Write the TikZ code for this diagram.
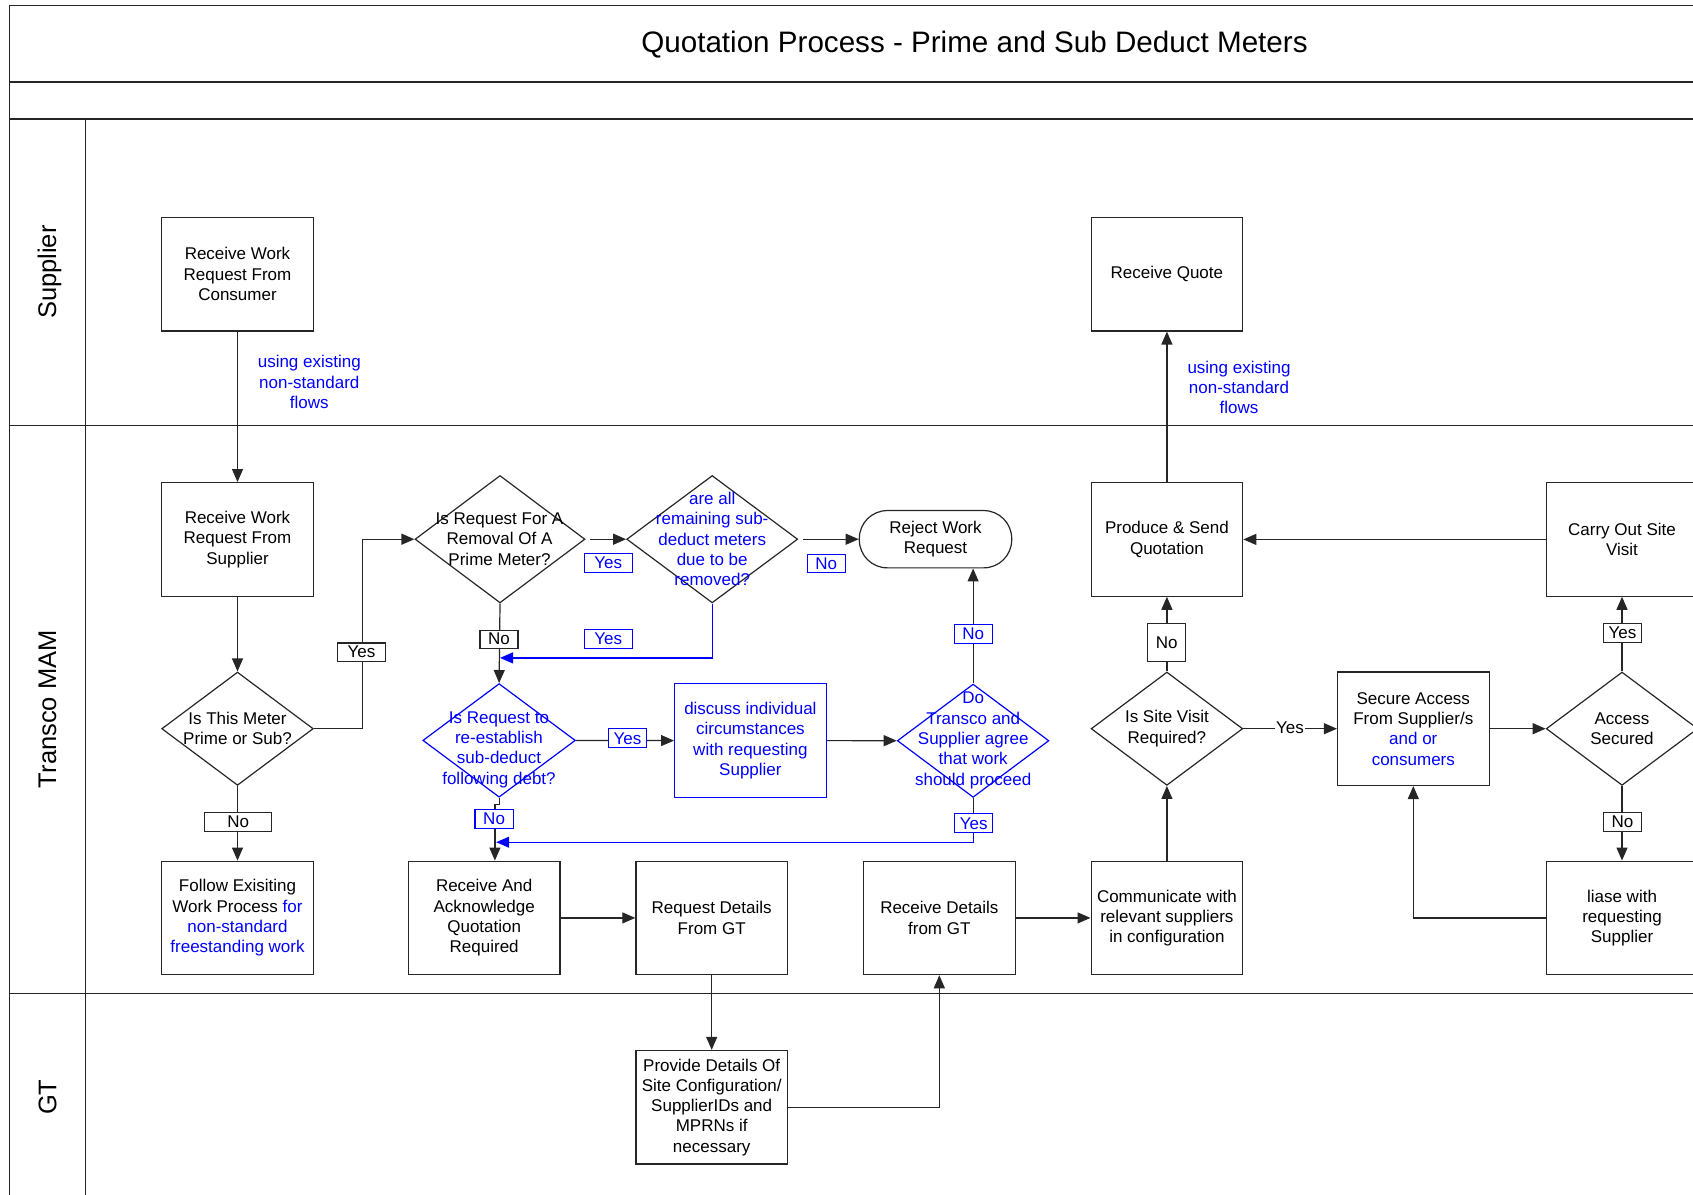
\documentclass[tikz,border=0pt]{standalone}
\usepackage{fontspec}
\setmainfont{Liberation Sans}
\usetikzlibrary{arrows.meta,shapes.geometric}
\begin{document}
\begin{tikzpicture}[x=1pt,y=-1pt,
  every node/.style={font=\fontsize{17}{20.3}\selectfont},
  ln/.style={draw=black!85, line width=1.2pt},
  arr/.style={ln, -{Triangle[length=13pt,width=11pt]}},
  barr/.style={draw=blue, line width=1.2pt, -{Triangle[length=13pt,width=11pt]}},
  box/.style={draw=black!85, line width=1.2pt, minimum width=151.6pt, minimum height=113.5pt, inner sep=0pt, align=center},
  dia/.style={diamond, draw=black!85, line width=1.2pt, inner sep=0pt, minimum width=151.6pt, minimum height=113.3pt},
  dtext/.style={align=center, inner sep=0pt},
  lbl/.style={draw=black!85, line width=1.1pt, fill=white, inner sep=0pt, minimum height=19pt},
  blbl/.style={draw=blue, text=blue, line width=1.1pt, fill=white, inner sep=0pt, minimum height=19pt},
  lane/.style={draw=black!85, line width=1.5pt},
]
\useasboundingbox (0,-1.2) rectangle (1693,1192.8);
\clip (0,-1.2) rectangle (1693,1192.8);

% frame and lanes
\draw[lane] (9.5,1200) -- (9.5,4.3) -- (1700,4.3);
\draw[lane] (9.5,80.7) -- (1700,80.7);
\draw[lane] (9.5,117.7) -- (1700,117.7);
\draw[lane] (85.5,117.7) -- (85.5,1200);
\draw[lane] (9.5,424.3) -- (1700,424.3);
\draw[lane] (9.5,992.3) -- (1700,992.3);

\node[font=\fontsize{29.6}{34}\selectfont] (title) at (974.5,43.5) {Quotation Process - Prime and Sub Deduct Meters};
\node[rotate=90, font=\fontsize{25.5}{30}\selectfont] (lsup) at (49.5,271) {Supplier};
\node[rotate=90, font=\fontsize{25.5}{30}\selectfont] (lmam) at (47.5,708) {Transco MAM};
\node[rotate=90, font=\fontsize{25.5}{30}\selectfont] (lgt) at (47.5,1096) {GT};

% boxes
\node[box] (bConsumer) at (237.5,273) {Receive Work\\Request From\\Consumer};
\node[box] (bQuote) at (1166.9,273) {Receive Quote};
\node[box] (bSupplier) at (237.5,538.2) {Receive Work\\Request From\\Supplier};
\node[box] (bFollow) at (237.5,916.7) {Follow Exisiting\\Work Process \textcolor{blue}{for}\\\textcolor{blue}{non-standard}\\\textcolor{blue}{freestanding work}};
\node[box] (bAck) at (484.2,916.7) {Receive And\\Acknowledge\\Quotation\\Required};
\node[box] (bReqGT) at (711.7,916.7) {Request Details\\From GT};
\node[box] (bRecvGT) at (939.3,916.7) {Receive Details\\from GT};
\node[box] (bComm) at (1166.9,916.7) {Communicate with\\relevant suppliers\\in configuration};
\node[box] (bProduce) at (1166.9,538.2) {Produce \& Send\\Quotation};
\node[box] (bSecure) at (1413.3,727.5) {Secure Access\\From Supplier/s\\\textcolor{blue}{and or}\\\textcolor{blue}{consumers}};
\node[box] (bCarry) at (1622,538.2) {Carry Out Site\\Visit};
\node[box] (bLiase) at (1622,916.7) {liase with\\requesting\\Supplier};
\node[box] (bGT) at (711.7,1106) {Provide Details Of\\Site Configuration/\\SupplierIDs and\\MPRNs if\\necessary};
\node[box, draw=blue, text=blue] (bDiscuss) at (750.4,739.4) {discuss individual\\circumstances\\with requesting\\Supplier};
\node[draw=black!85, line width=1.2pt, rounded corners=28pt, minimum width=152.4pt, minimum height=57.3pt, inner sep=0pt, align=center] (reject) at (935.5,538) {Reject Work\\Request};

% diamonds
\node[dia] (d1) at (237.5,727.5) {};
\node[dia, minimum width=170pt, minimum height=127.4pt] (d2) at (500,538) {};
\node[dia, minimum width=171pt, minimum height=127.4pt] (d3) at (712.2,538) {};
\node[dia, draw=blue, minimum width=152.6pt, minimum height=113.6pt] (d4) at (499.1,739.2) {};
\node[dia, draw=blue] (d5) at (973.1,739.5) {};
\node[dia] (d6) at (1166.9,727.5) {};
\node[dia] (d7) at (1622,727.5) {};

\node[dtext] (t1) at (237.5,727.5) {Is This Meter\\Prime or Sub?};
\node[dtext] (t2) at (499.5,538) {Is Request For A\\Removal Of A\\Prime Meter?};
\node[dtext, text=blue] (t3) at (712.2,538) {are all\\remaining sub-\\deduct meters\\due to be\\removed?};
\node[dtext, text=blue] (t4) at (499,748.5) {Is Request to\\re-establish\\sub-deduct\\following debt?};
\node[dtext, text=blue] (t5) at (973.2,739.3) {Do\\Transco and\\Supplier agree\\that work\\should proceed};
\node[dtext] (t6) at (1166.9,727.4) {Is Site Visit\\Required?};
\node[dtext] (t7) at (1622,727.4) {Access\\Secured};

% connectors
\draw[arr] (bConsumer) -- (bSupplier);
\draw[arr] (bSupplier) -- (d1);
\draw[arr] (d1) -- (bFollow);
\draw[arr] (d1.east) -- ++(48.4,0) |- (d2.west);
\draw[arr, shorten <=4pt] (d2.east) -- (d3.west);
\draw[arr, shorten <=4.5pt] (d3.east) -- (reject.west);
\draw[arr] (d2.south) -- (d4.north);
\coordinate (m1) at (500,656.7);
\draw[barr] (d3.south) |- (m1);
\draw[arr] (d4.east) -- (bDiscuss.west);
\draw[arr] (bDiscuss.east) -- (d5.west);
\draw[arr] (d5.north) -- (d5.north |- reject.south);
\coordinate (m2) at (496.2,841);
\draw[barr] (d5.south) |- (m2);
\draw[ln] (d5.south) -- ++(0,17);
\draw[arr] (d4.south) -- ++(0,7) -| ([xshift=10.7pt]bAck.north);
\draw[arr] (bAck) -- (bReqGT);
\draw[arr] (bReqGT) -- (bGT);
\draw[arr] (bGT.east) -| (bRecvGT.south);
\draw[arr] (bRecvGT) -- (bComm);
\draw[arr] (bComm) -- (d6);
\draw[arr] (d6) -- (bProduce);
\draw[arr] (bProduce) -- (bQuote);
\draw[arr] (d6) -- (bSecure);
\draw[arr] (bSecure) -- (d7);
\draw[arr] (d7) -- (bCarry);
\draw[arr] (bCarry) -- (bProduce);
\draw[arr] (d7) -- (bLiase);
\draw[arr] (bLiase.west) -| (bSecure.south);

% labels
\node[lbl, minimum width=67pt] (lNo1) at (238.2,820.8) {No};
\node[lbl, minimum width=47.7pt, minimum height=18.5pt] (lYes1) at (361.5,651) {Yes};
\node[blbl, minimum width=48pt, minimum height=18.3pt] (lYes2) at (608.3,561.8) {Yes};
\node[blbl, minimum width=38.3pt, minimum height=17.7pt] (lNo2) at (826.2,562.2) {No};
\node[lbl, minimum width=38pt, minimum height=18.3pt] (lNo3) at (499,638) {No};
\node[blbl, minimum width=48pt] (lYes3) at (608.3,637.7) {Yes};
\node[blbl, minimum width=38.6pt] (lYes4) at (627.4,737.2) {Yes};
\node[blbl, minimum width=38pt] (lNo4) at (973.3,632.8) {No};
\node[blbl, minimum width=38.2pt] (lYes5) at (973.8,822.2) {Yes};
\node[blbl, minimum width=38.2pt] (lNo5) at (494.1,817.7) {No};
\node[lbl, minimum width=38.1pt, minimum height=38.3pt] (lNo6) at (1166.6,641.2) {No};
\node[fill=white, inner sep=1pt] (lYes6) at (1289.9,727) {Yes};
\node[lbl, minimum width=38.5pt, minimum height=19.7pt] (lYes7) at (1622.4,631.8) {Yes};
\node[lbl, minimum width=38.5pt] (lNo7) at (1622.4,820.8) {No};

\node[text=blue, align=center] (f1) at (309.3,381) {using existing\\non-standard\\flows};
\node[text=blue, align=center] (f2) at (1239,386.4) {using existing\\non-standard\\flows};
\end{tikzpicture}
\end{document}
